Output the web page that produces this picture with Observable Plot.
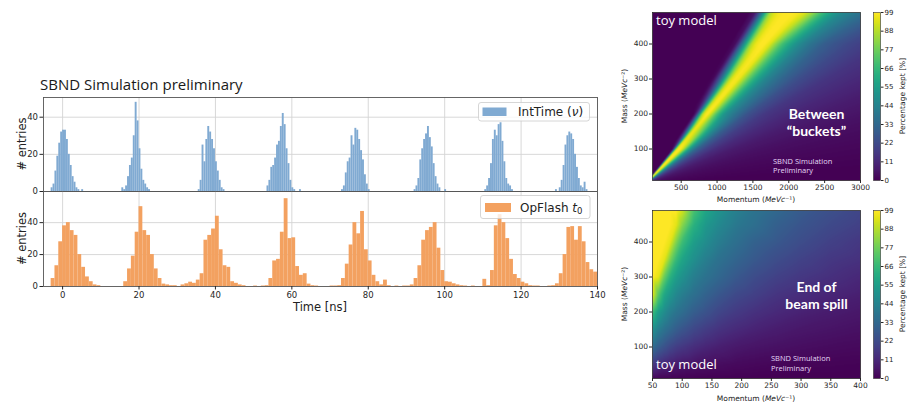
<!DOCTYPE html>
<html><head><meta charset="utf-8">
<script src="https://cdn.jsdelivr.net/npm/d3@7"></script>
<script src="https://cdn.jsdelivr.net/npm/@observablehq/plot@0.6"></script>
<style>
body{margin:0;background:#fff;}
#root{position:relative;width:907px;height:404px;overflow:hidden;background:#fff;}
</style></head><body><div id="root"></div>
<script>
// ---------------- data: histograms ----------------
const timeTicks = [0, 20, 40, 60, 80, 100, 120, 140];
const entryTicks = [0, 20, 40];
// IntTime (nu): 0.5 ns bins, one list per bunch, with left edge of first bin
const blueBinWidth = 0.5;
const blueStarts = [-3, 15.5, 35.5, 53.5, 62, 73, 92, 110.5, 129];
const blueCounts = [
  [2,4,11,19,26,32,33,33,28,20,14,8,5,2,1,0,1],
  [2,1,3,8,14,18,30,48,38,23,12,6,4,2,1],
  [1,6,25,16,28,35,32,28,23,16,11,6,2,1],
  [3,6,13,14,18,25,27,35,42,36,23,15,6,2,1],
  [1],
  [1,3,10,16,18,30,25,34,33,28,22,17,9,4,1],
  [1,3,7,17,23,28,31,35,29,24,15,8,4,2,0,0,1],
  [1,3,7,15,28,33,30,36,37,27,16,7,4,3,1],
  [1,0,2,6,14,25,30,32,31,28,20,13,7,3,2,5,1]
];
// OpFlash t0: 1 ns bins from -3 ns
const orangeStart = -3;
const orangeBinWidth = 1;
const orangeCounts = [
  5,13,28,38,40,35,32,20,12,6,
  3,1,0.5,0,0,0,0,0,0,3,
  11,19,34,50,35,32,20,11,5,1.5,
  1,0.5,0.5,0,1,1.7,2.7,2,4,8,
  29,32,36,44,23,13,12,3,2,1,
  0.5,0,0,0.3,0,0.3,0.5,5,16,17,
  34,55,30,30.5,12.5,7,8,1.5,0.5,0.3,
  0,0,0,0.3,0.3,0.5,5,14,26,40,
  33,47,23,16,7,3,1,4,0.5,0,
  0.3,0,0.3,0.3,1,5,13,29,35,37,
  40,24,10,3,2.7,1.7,1,0.5,0.3,0,
  0.3,0,0,4.5,0.5,10,38,45,40,30,
  17,7.5,5,2.7,1.7,0.5,0.3,0.3,0,0,
  0.3,0.5,1.7,8,20,37,37.5,29,37.5,28,
  15,10.5,9
];

// ---------------- data: heatmaps (percentage kept) ----------------
const colorTicks = [0, 11, 22, 33, 44, 55, 66, 77, 88, 99];
const bucketsMomentumTicks = [500, 1000, 1500, 2000, 2500, 3000];
const spillMomentumTicks = [50, 100, 150, 200, 250, 300, 350, 400];
const massTicks = [100, 200, 300, 400];

// "Between buckets": values read along the band, tabulated by mass row and by mass/momentum ratio
const bucketsRatio = [0.01,0.02,0.04,0.06,0.08,0.10,0.12,0.14,0.16,0.18,0.19,0.20,0.21,0.22,0.23,0.24,0.25,0.26,0.27,0.28,0.29,0.30,0.31,0.32,0.34,1,10];
const bucketsMass = [10, 100, 200, 400, 490];
const bucketsKept = [
  [0,0.5,2,4,7,12,20,32,52,78,90,97,99,98,92,65,30,6,0,0,0,0,0,0,0,0,0],
  [0,0.5,2,4,7,12,20,32,52,78,90,97,99,98,92,65,30,6,0,0,0,0,0,0,0,0,0],
  [0,0.5,2,4,7,11,16,25,38,50,60,70,82,93,99,97,88,65,38,15,4,0,0,0,0,0,0],
  [0,0.5,2,4,7,11,15,21,29,42,50,60,70,82,94,99,99,96,88,70,50,30,12,3,0,0,0],
  [0,0.5,2,4,7,11,16,24,36,48,58,70,84,94,98,99,99,98,95,88,68,42,20,6,0,0,0]
];

// "End of beam spill": grid by momentum and mass
const spillMomentum = [50,60,70,80,90,100,120,140,160,190,220,260,300,350,400];
const spillMass = [10,50,100,150,200,250,300,350,400,450,490];
const spillKept = [
  [1.5,1.1,0.9,0.7,0.6,0.5,0.3,0.2,0.1,0,0,0,0,0,0],
  [16,12.7,10.3,8.5,7.1,6,4.8,3.9,3.2,2.4,1.9,1.4,1.1,0.9,0.7],
  [35,29,25,21,18,16,12.7,10.3,8.5,6.5,5.3,4.3,3.5,2.8,2.3],
  [50,42,37,33,29,26,21,17.5,14.7,11.8,9.6,7.6,6,5,4.1],
  [68,55,48,42,38,35,29,25,21,17,14.2,11.4,9.3,7.4,6],
  [95,73,59,52,46,42,36,31,27,22,19,15,12.7,10.3,8.5],
  [99,95,76,63,55,50,42,37,33,27.5,23,19,16,13.5,11],
  [99,99,95,79,66,58,49,42,37,32,27.5,23,19.5,16,14],
  [99,99,99,95,80,68,55,48,42,36,31,27,23,19,16],
  [99,99,99,99,95,82,63,53,47,40,36,30,26,22,19],
  [99,99,99,99,99,92,70,58,51,43,38,33,28,24,20.5]
];

// ---------------- build ----------------
const root = document.getElementById("root");
function place(el, left, top) {
  el.style.position = "absolute";
  el.style.left = left + "px";
  el.style.top = top + "px";
  root.appendChild(el);
}
const baseStyle = {fontFamily: '"DejaVu Sans", sans-serif', fontSize: "8.5px", color: "#262626", background: "transparent", overflow: "visible"};
const gridColor = "#d4d4d4";
const frameColor = "#555";
const blue = "#80aad2";
const orange = "#f3a160";

const blueBins = blueStarts.flatMap((s, k) => blueCounts[k].map((c, i) => ({x1: s + i * blueBinWidth, x2: s + (i + 1) * blueBinWidth, y: c}))).filter(d => d.y > 0);
const orangeBins = orangeCounts.map((c, i) => ({x1: orangeStart + i * orangeBinWidth, x2: orangeStart + (i + 1) * orangeBinWidth, y: c})).filter(d => d.y > 0);

const FL = 43, FR = 597, M = 10;
function hist(bins, color, yMax, frameH, showX) {
  const marks = [
    Plot.gridX(timeTicks, {stroke: gridColor, strokeOpacity: 1, strokeWidth: 0.9}),
    Plot.gridY([20, 40], {stroke: gridColor, strokeOpacity: 1, strokeWidth: 0.9}),
    Plot.rect(bins, {x1: "x1", x2: "x2", y1: 0, y2: "y", fill: color}),
    Plot.axisY(entryTicks, {tickSize: 3.5, tickPadding: 2, label: null, fontSize: 8.5}),
    Plot.frame({stroke: frameColor, strokeWidth: 0.9})
  ];
  if (showX) marks.push(Plot.axisX(timeTicks, {tickSize: 3.5, tickPadding: 2, label: null, fontSize: 8.5}));
  return Plot.plot({
    width: FR + M, height: frameH + M + (showX ? 20 : M),
    marginLeft: FL, marginRight: M, marginTop: M, marginBottom: showX ? 20 : M,
    x: {domain: [-5, 140], axis: showX ? undefined : null},
    y: {domain: [0, yMax]},
    style: baseStyle,
    marks
  });
}
place(hist(blueBins, blue, 50.6, 94, false), 0, 97 - M);
place(hist(orangeBins, orange, 59.5, 95, true), 0, 191 - M);

const viridis = {type: "linear", scheme: "viridis", domain: [0, 99]};
function heatPlot(rasterMark, xDom, xTicks) {
  return Plot.plot({
    width: 40 + 208 + 4, height: 4 + 168 + 22,
    marginLeft: 40, marginRight: 4, marginTop: 4, marginBottom: 22,
    x: {domain: xDom}, y: {domain: [10, 490]},
    color: viridis,
    style: {...baseStyle, fontSize: "7.5px"},
    marks: [
      rasterMark,
      Plot.axisX(xTicks, {tickSize: 3, tickPadding: 1.5, label: null, fontSize: 7.5, tickFormat: "d"}),
      Plot.axisY(massTicks, {tickSize: 3, tickPadding: 1.5, label: null, fontSize: 7.5, tickFormat: "d"}),
      Plot.frame({stroke: "#222", strokeWidth: 0.7})
    ]
  });
}
// lookup into the buckets table (linear between tabulated ratios and mass rows)
const bucketRows = bucketsKept.map(row => d3.scaleLinear().domain(bucketsRatio).range(row).clamp(true));
function bucketsLookup(p, m) {
  const r = m / p;
  let j = Math.max(0, Math.min(bucketsMass.length - 2, d3.bisectRight(bucketsMass, m) - 1));
  const t = Math.max(0, Math.min(1, (m - bucketsMass[j]) / (bucketsMass[j + 1] - bucketsMass[j])));
  return bucketRows[j](r) * (1 - t) + bucketRows[j + 1](r) * t;
}
const spillGrid = [];
spillMass.forEach((m, j) => spillMomentum.forEach((p, i) => spillGrid.push({p, m, v: spillKept[j][i]})));

place(heatPlot(Plot.raster({fill: bucketsLookup, x1: 100, x2: 3000, y1: 10, y2: 490}), [100, 3000], bucketsMomentumTicks), 652 - 40, 12 - 4);
place(heatPlot(Plot.raster(spillGrid, {x: "p", y: "m", fill: "v", interpolate: "barycentric", x1: 50, x2: 400, y1: 10, y2: 490}), [50, 400], spillMomentumTicks), 652 - 40, 210 - 4);

function colorbar() {
  return Plot.plot({
    width: 7 + 28, height: 4 + 168 + 4,
    marginLeft: 0, marginRight: 28, marginTop: 4, marginBottom: 4,
    x: {domain: [0, 1], axis: null}, y: {domain: [0, 99]},
    color: viridis,
    style: {...baseStyle, fontSize: "7px"},
    marks: [
      Plot.raster({fill: (x, y) => y, x1: 0, x2: 1, y1: 0, y2: 99, width: 1, height: 168}),
      Plot.axisY(colorTicks, {anchor: "right", tickSize: 2.5, tickPadding: 1.5, label: null, fontSize: 7}),
      Plot.frame({stroke: "#333", strokeWidth: 0.6})
    ]
  });
}
place(colorbar(), 873, 12 - 4);
place(colorbar(), 873, 210 - 4);

// ---------------- overlay text & legends ----------------
const svg = d3.create("svg").attr("width", 907).attr("height", 404)
  .style("position", "absolute").style("left", "0px").style("top", "0px").style("overflow", "visible");
const DV = '"DejaVu Sans", sans-serif';
const OS = '"Open Sans", sans-serif';
const LA = 'Lato, "Open Sans", sans-serif';
function txt(x, y, s, o = {}) {
  const t = svg.append("text").attr("x", x).attr("y", y)
    .attr("font-family", o.family || DV).attr("font-size", o.size || 10)
    .attr("fill", o.fill || "#222").attr("text-anchor", o.anchor || "start")
    .attr("font-weight", o.weight || 400);
  if (o.rotate) t.attr("transform", `rotate(-90 ${x} ${y})`).attr("dominant-baseline", "central").attr("text-anchor", "middle");
  if (Array.isArray(s)) s.forEach(part => {
    const ts = t.append("tspan").text(part.t);
    if (part.i) ts.attr("font-style", "italic");
    if (part.size) ts.attr("font-size", part.size);
    if (part.dy) ts.attr("dy", part.dy);
  }); else t.text(s);
  return t;
}
// left panel
txt(40, 89.5, "SBND Simulation preliminary", {family: OS, size: 15, fill: "#1a1a1a"});
txt(21.5, 144, "# entries", {size: 11.5, rotate: true});
txt(21.5, 238.5, "# entries", {size: 11.5, rotate: true});
txt(320, 310.5, "Time [ns]", {size: 11.5, anchor: "middle"});
// legends
svg.append("rect").attr("x", 478.5).attr("y", 102.5).attr("width", 111).attr("height", 18.5).attr("rx", 2.5)
  .attr("fill", "white").attr("fill-opacity", 0.8).attr("stroke", "#cccccc").attr("stroke-width", 0.8);
svg.append("rect").attr("x", 482.5).attr("y", 107.5).attr("width", 24).attr("height", 8.5).attr("fill", blue);
txt(518, 116, [{t: "IntTime ("}, {t: "ν", i: true}, {t: ")"}], {size: 12});
svg.append("rect").attr("x", 480.5).attr("y", 195.5).attr("width", 109.5).attr("height", 23).attr("rx", 2.5)
  .attr("fill", "white").attr("fill-opacity", 0.8).attr("stroke", "#cccccc").attr("stroke-width", 0.8);
svg.append("rect").attr("x", 485).attr("y", 203).attr("width", 26).attr("height", 9).attr("fill", orange);
txt(520, 211.5, [{t: "OpFlash "}, {t: "t", i: true}, {t: "0", size: 8.5, dy: 2.5}], {size: 12});

// heatmap labels
const massLabel = [{t: "Mass ("}, {t: "MeVc", i: true}, {t: "⁻²)"}];
const momLabel = [{t: "Momentum ("}, {t: "MeVc", i: true}, {t: "⁻¹)"}];
txt(624, 96, massLabel, {size: 7.5, rotate: true});
txt(624, 294, massLabel, {size: 7.5, rotate: true});
txt(756, 201.5, momLabel, {size: 7.5, anchor: "middle"});
txt(756, 401, momLabel, {size: 7.5, anchor: "middle"});
txt(902, 96, "Percentage kept [%]", {size: 7.5, rotate: true});
txt(902, 294, "Percentage kept [%]", {size: 7.5, rotate: true});

// annotations inside heatmaps
const lav = "#e4d6f5";
txt(656, 24.5, "toy model", {family: OS, size: 13, fill: "#ffffff"});
txt(816.5, 119, "Between", {family: LA, size: 14, weight: 700, fill: "#ffffff", anchor: "middle"});
txt(816.5, 136, "“buckets”", {family: LA, size: 14, weight: 700, fill: "#ffffff", anchor: "middle"});
txt(773, 163.5, "SBND Simulation", {family: OS, size: 7.5, fill: lav});
txt(773, 173, "Preliminary", {family: OS, size: 7.5, fill: lav});
txt(816.5, 291.5, "End of", {family: LA, size: 14, weight: 700, fill: "#ffffff", anchor: "middle"});
txt(816.5, 308.5, "beam spill", {family: LA, size: 14, weight: 700, fill: "#ffffff", anchor: "middle"});
txt(656, 369, "toy model", {family: OS, size: 13, fill: "#ffffff"});
txt(771, 361, "SBND Simulation", {family: OS, size: 7.5, fill: lav});
txt(771, 370.5, "Preliminary", {family: OS, size: 7.5, fill: lav});

root.appendChild(svg.node());
</script></body></html>
